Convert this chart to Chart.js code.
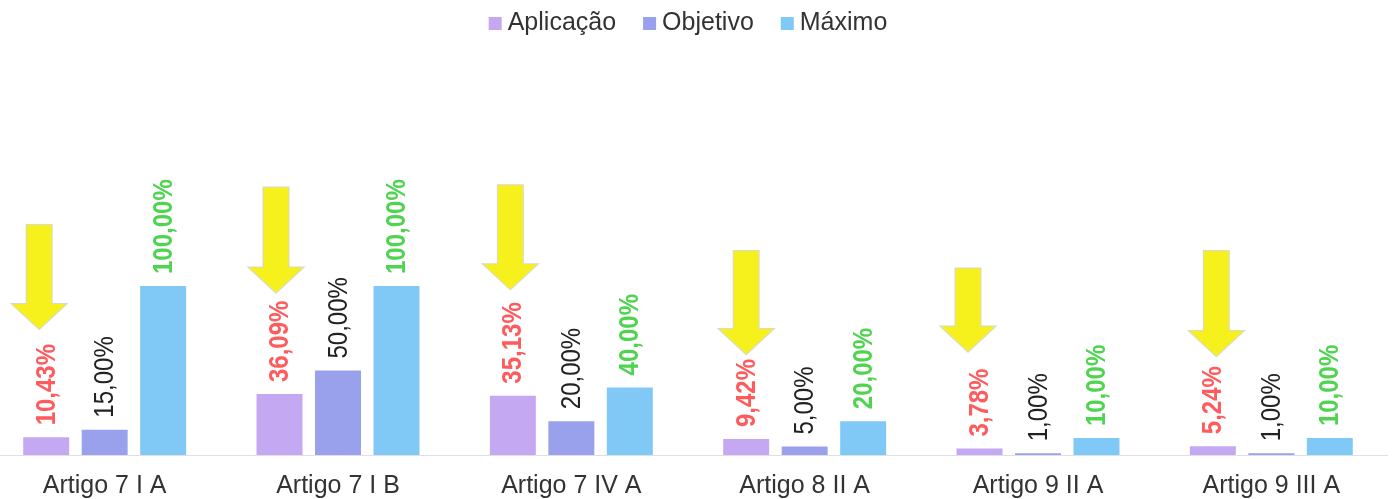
<!DOCTYPE html>
<html>
<head>
<meta charset="utf-8">
<script src="https://cdn.jsdelivr.net/npm/chart.js@4/dist/chart.umd.min.js"></script>
<style>
    body { margin: 0; background: #fff; overflow: hidden; }
    #wrap { position: absolute; left: -12px; top: 0; width: 1400px; height: 499px; }
</style>
</head>
<body>
<div id="wrap"><canvas id="myChart"></canvas></div>
<script>
const categorias = ['Artigo 7 I A', 'Artigo 7 I B', 'Artigo 7 IV A', 'Artigo 8 II A', 'Artigo 9 II A', 'Artigo 9 III A'];
const aplicacao = [10.43, 36.09, 35.13, 9.42, 3.78, 5.24];
const objetivo = [15.00, 50.00, 20.00, 5.00, 1.00, 1.00];
const maximo = [100.00, 100.00, 40.00, 20.00, 10.00, 10.00];

const corBarras = ['#c4a9f2', '#99a1ec', '#80c9f7'];
const corRotulos = ['#ff5a5c', '#222222', '#4fd44f'];
const pesoRotulos = ['bold', 'normal', 'bold'];

// hand placed arrows (style only): offset from bar center, gap to label, length
const setas = [
    { dx: -7, gap: 15, len: 104 },
    { dx: -3.5, gap: 8, len: 105 },
    { dx: -2.5, gap: 13, len: 104 },
    { dx: 0, gap: 5, len: 103 },
    { dx: -11.5, gap: 17, len: 83 },
    { dx: 3.5, gap: 10, len: 105 }
];

function formatPct(v) {
    return v.toFixed(2).replace('.', ',') + '%';
}

// rotated value labels + yellow arrows over "Aplicação"
const rotulosPlugin = {
    id: 'rotulos',
    afterDatasetsDraw(chart) {
        const ctx = chart.ctx;
        chart.data.datasets.forEach(function (ds, i) {
            const meta = chart.getDatasetMeta(i);
            meta.data.forEach(function (bar, j) {
                const txt = formatPct(ds.data[j]);
                ctx.save();
                ctx.font = pesoRotulos[i] + ' 24px "Liberation Sans", Arial, sans-serif';
                const w = ctx.measureText(txt).width;
                ctx.translate(bar.x, bar.y - 12);
                ctx.scale(1.12, 1);
                ctx.rotate(-Math.PI / 2);
                ctx.fillStyle = corRotulos[i];
                ctx.textAlign = 'left';
                ctx.textBaseline = 'middle';
                ctx.fillText(txt, 0, 1);
                ctx.restore();

                if (i == 0) {
                    let s = setas[j];
                    let tip = bar.y - 12 - w - s.gap;
                    let cx = bar.x + s.dx;
                    let top = tip - s.len;
                    let head = tip - 25;
                    ctx.save();
                    ctx.beginPath();
                    ctx.moveTo(cx - 12.5, top);
                    ctx.lineTo(cx + 12.5, top);
                    ctx.lineTo(cx + 12.5, head);
                    ctx.lineTo(cx + 27, head);
                    ctx.lineTo(cx, tip);
                    ctx.lineTo(cx - 27, head);
                    ctx.lineTo(cx - 12.5, head);
                    ctx.closePath();
                    ctx.lineWidth = 2;
                    ctx.strokeStyle = 'rgba(180,180,160,0.5)';
                    ctx.stroke();
                    ctx.fillStyle = '#f6f01c';
                    ctx.fill();
                    ctx.restore();
                }
            });
        });
    }
};

const legendaPlugin = {
    id: 'legenda',
    afterDraw(chart) {
        const ctx = chart.ctx;
        ctx.save();
        ctx.font = '25px "Liberation Sans", Arial, sans-serif';
        let itens = chart.data.datasets.map(function (ds) {
            return { label: ds.label, cor: ds.backgroundColor, w: ctx.measureText(ds.label).width };
        });
        let total = 0;
        itens.forEach(function (it, k) {
            total += 13 + 6 + it.w + (k < itens.length - 1 ? 27 : 0);
        });
        let x = chart.width / 2 - total / 2;
        let y = 22;
        itens.forEach(function (it) {
            ctx.fillStyle = it.cor;
            ctx.fillRect(x, y - 5, 13, 13);
            ctx.fillStyle = '#333333';
            ctx.textAlign = 'left';
            ctx.textBaseline = 'middle';
            ctx.fillText(it.label, x + 19, y + 1);
            x += 13 + 6 + it.w + 27;
        });
        ctx.restore();
    }
};

const data = {
    labels: categorias,
    datasets: [
        { label: 'Aplicação', data: aplicacao, backgroundColor: corBarras[0] },
        { label: 'Objetivo', data: objetivo, backgroundColor: corBarras[1] },
        { label: 'Máximo', data: maximo, backgroundColor: corBarras[2] }
    ]
};

const config = {
    type: 'bar',
    data: data,
    options: {
        responsive: true,
        maintainAspectRatio: false,
        animation: false,
        categoryPercentage: 0.752,
        barPercentage: 0.786,
        layout: { padding: { top: 49.4, left: 0, right: 0, bottom: 0 } },
        plugins: {
            legend: { display: false },
            tooltip: { enabled: false }
        },
        scales: {
            x: {
                grid: { display: false },
                border: { display: true, color: '#e0e0e0', width: 1 },
                ticks: {
                    color: '#333333',
                    padding: 8,
                    font: { size: 25, family: '"Liberation Sans", Arial, sans-serif' }
                },
                afterFit: function (scale) { scale.height = 44; }
            },
            y: {
                display: false,
                min: 0,
                max: 240
            }
        }
    },
    plugins: [rotulosPlugin, legendaPlugin]
};

let c = document.getElementById('myChart').getContext('2d');
var grafico = new Chart(c, config);
</script>
</body>
</html>
